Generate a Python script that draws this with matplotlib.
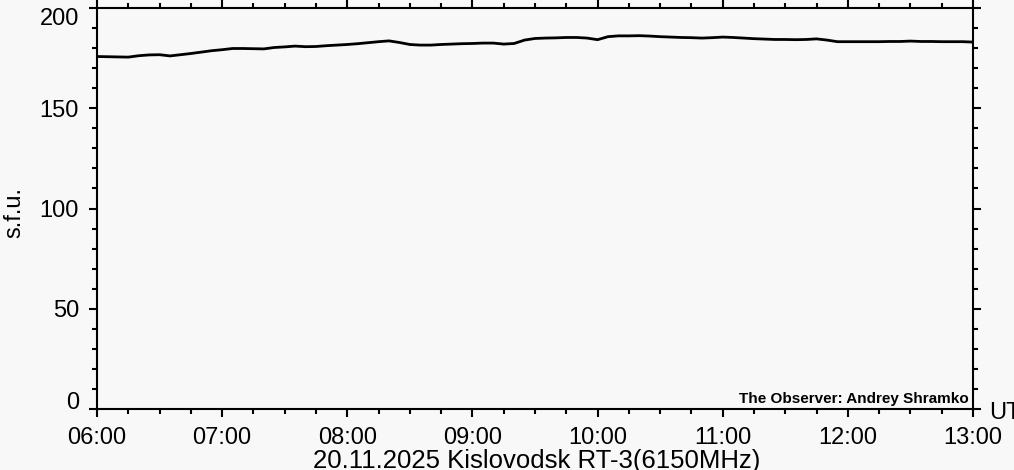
import matplotlib
matplotlib.use("Agg")
import matplotlib.pyplot as plt
from matplotlib.ticker import MultipleLocator, FuncFormatter

# Time in minutes after 06:00 UT (5-minute steps)
minutes = list(range(0, 421, 5))
# Solar flux, s.f.u.
flux = [
    175.8, 175.7, 175.6, 175.5, 176.2, 176.6, 176.7, 176.1, 176.7, 177.3,
    178.0, 178.7, 179.2, 179.8, 179.8, 179.7, 179.6, 180.3, 180.6, 181.0,
    180.7, 180.8, 181.2, 181.5, 181.8, 182.2, 182.7, 183.2, 183.6, 182.8,
    181.8, 181.5, 181.5, 181.8, 182.0, 182.2, 182.3, 182.5, 182.5, 182.0,
    182.3, 184.0, 184.8, 185.0, 185.1, 185.3, 185.3, 185.0, 184.2, 185.7,
    186.1, 186.1, 186.2, 186.0, 185.7, 185.5, 185.3, 185.2, 185.0, 185.2,
    185.5, 185.3, 185.0, 184.7, 184.5, 184.3, 184.3, 184.2, 184.3, 184.6,
    184.0, 183.2, 183.2, 183.2, 183.2, 183.2, 183.3, 183.3, 183.5, 183.3,
    183.3, 183.2, 183.2, 183.2, 183.0,
]
hours = [m / 60.0 + 6.0 for m in minutes]

xtick_hours = [6, 7, 8, 9, 10, 11, 12, 13]
ytick_values = [0, 50, 100, 150, 200]
title = "20.11.2025 Kislovodsk RT-3(6150MHz)"
ylabel = "s.f.u."
observer = "The Observer: Andrey Shramko"

bg = "#f8f8f8"
plt.rcParams["font.family"] = ["Liberation Sans", "DejaVu Sans"]

fig = plt.figure(figsize=(10.14, 4.70), dpi=100, facecolor=bg)
ax = fig.add_axes([97 / 1014, 1 - 409 / 470, 876 / 1014, 401 / 470])
ax.set_facecolor(bg)

ax.plot(hours, flux, color="black", linewidth=2.0)

ax.set_xlim(6, 13)
ax.set_ylim(0, 200)
ax.set_xticks(xtick_hours)
ax.xaxis.set_minor_locator(MultipleLocator(0.25))
ax.set_yticks(ytick_values)
ax.yaxis.set_minor_locator(MultipleLocator(10))
ax.xaxis.set_major_formatter(FuncFormatter(lambda v, p: f"{int(round(v)):02d}:00"))

for s in ax.spines.values():
    s.set_linewidth(1.5)
ax.tick_params(which="both", direction="out", width=1.5, top=True, right=True,
               labelsize=17, colors="black")
ax.tick_params(which="major", length=6)
ax.tick_params(which="minor", length=3.5)
ax.tick_params(axis="x", which="major", pad=7)
ax.tick_params(axis="y", which="major", pad=7)

fig.canvas.draw()
ylabels = ax.get_yticklabels()
ylabels[0].set_verticalalignment("baseline")
ylabels[-1].set_verticalalignment("top")

fig.text(14 / 1014, 1 - 213 / 470, ylabel, rotation=90, ha="center", va="center",
         fontsize=17)
fig.text(989 / 1014, 1 - 413 / 470, "UT", ha="left", va="center", fontsize=17)
fig.text(537 / 1014, 1 - 468 / 470, title, ha="center", va="baseline", fontsize=18.5)
fig.text(969 / 1014, 1 - 403 / 470, observer, ha="right", va="baseline",
         fontsize=11, fontweight="bold")

fig.savefig("out.png", dpi=100, facecolor=bg)
